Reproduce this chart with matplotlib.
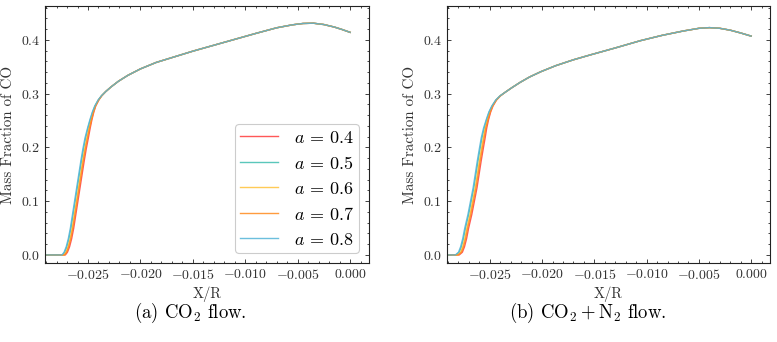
import matplotlib
matplotlib.use("Agg")
import matplotlib.pyplot as plt

plt.rcParams.update({
    "font.family": "cmr10",
    "mathtext.fontset": "cm",
    "axes.formatter.use_mathtext": True,
    "axes.linewidth": 0.8,
    "xtick.direction": "in",
    "ytick.direction": "in",
    "xtick.top": True,
    "ytick.right": True,
    "xtick.minor.visible": True,
    "ytick.minor.visible": True,
    "xtick.major.size": 3,
    "ytick.major.size": 3,
    "xtick.minor.size": 1.5,
    "ytick.minor.size": 1.5,
    "xtick.major.width": 0.6,
    "ytick.major.width": 0.6,
    "xtick.minor.width": 0.5,
    "ytick.minor.width": 0.5,
})

labels = [r"$a \,=\, 0.4$", r"$a \,=\, 0.5$", r"$a \,=\, 0.6$", r"$a \,=\, 0.7$", r"$a \,=\, 0.8$"]
colors = ["#FF3B3B", "#3DBDB0", "#FFC23A", "#FF8A1C", "#52B4D8"]
a_values = [0.4, 0.5, 0.6, 0.7, 0.8]

# ---------- panel (a): CO2 flow ----------
a_flat_x = [-0.0291]
a_flat_y = [0.0]
a_rise_y = [0.0, 0.005, 0.015, 0.03, 0.05, 0.075, 0.10, 0.125, 0.15, 0.175, 0.198, 0.218,
            0.236, 0.252, 0.266, 0.277, 0.288, 0.296]
a_rise_x = {
    0.4: [-0.02716, -0.02696, -0.02676, -0.02656, -0.02636, -0.02616, -0.02596, -0.02576, -0.02556, -0.02536, -0.02516, -0.02496, -0.02479, -0.02462, -0.02444, -0.02426, -0.02397, -0.02369],
    0.5: [-0.02742, -0.02722, -0.02702, -0.02682, -0.02662, -0.02642, -0.02622, -0.02602, -0.02582, -0.02562, -0.02542, -0.02522, -0.02500, -0.02477, -0.02455, -0.02434, -0.02402, -0.02371],
    0.6: [-0.0273, -0.0271, -0.0269, -0.0267, -0.0265, -0.0263, -0.0261, -0.0259, -0.0257, -0.0255, -0.0253, -0.0251, -0.0249, -0.0247, -0.0245, -0.0243, -0.0240, -0.0237],
    0.7: [-0.02724, -0.02704, -0.02684, -0.02664, -0.02644, -0.02624, -0.02604, -0.02584, -0.02564, -0.02544, -0.02524, -0.02504, -0.02485, -0.02466, -0.02447, -0.02428, -0.02399, -0.02369],
    0.8: [-0.02748, -0.02728, -0.02708, -0.02688, -0.02668, -0.02648, -0.02628, -0.02608, -0.02588, -0.02568, -0.02548, -0.02528, -0.02504, -0.02481, -0.02458, -0.02435, -0.02404, -0.02372],
}
a_tail_x = [-0.0233, -0.0228, -0.0221, -0.0212, -0.0200, -0.0185, -0.0170, -0.0150, -0.0130, -0.0110,
            -0.0090, -0.0070, -0.0055, -0.0045, -0.0035, -0.0025, -0.0015, -0.0008, 0.0]
a_tail_y = [0.304, 0.3125, 0.323, 0.334, 0.346, 0.358, 0.367, 0.379, 0.390, 0.401,
            0.412, 0.4225, 0.428, 0.4305, 0.431, 0.4285, 0.4238, 0.4195, 0.414]

# ---------- panel (b): CO2 + N2 flow ----------
b_flat_x = [-0.0291]
b_flat_y = [0.0]
b_rise_y = [0.0, 0.005, 0.015, 0.03, 0.05, 0.075, 0.10, 0.125, 0.15, 0.175, 0.198, 0.218,
            0.236, 0.252, 0.266, 0.277, 0.288, 0.296]
b_rise_x = {
    0.4: [-0.02793, -0.02763, -0.02743, -0.02723, -0.02703, -0.02673, -0.02648, -0.02623, -0.02603, -0.02583, -0.02563, -0.02545, -0.02530, -0.02512, -0.02492, -0.02470, -0.02437, -0.02398],
    0.5: [-0.02823, -0.02793, -0.02773, -0.02753, -0.02733, -0.02703, -0.02678, -0.02653, -0.02633, -0.02613, -0.02593, -0.02575, -0.02554, -0.02530, -0.02506, -0.02479, -0.02443, -0.02401],
    0.6: [-0.0281, -0.0278, -0.0276, -0.0274, -0.0272, -0.0269, -0.02665, -0.0264, -0.0262, -0.0260, -0.0258, -0.02562, -0.02544, -0.02522, -0.02500, -0.02475, -0.02440, -0.02400],
    0.7: [-0.02802, -0.02772, -0.02752, -0.02732, -0.02712, -0.02682, -0.02657, -0.02632, -0.02612, -0.02592, -0.02572, -0.02554, -0.02538, -0.02517, -0.02496, -0.02473, -0.02438, -0.02399],
    0.8: [-0.02830, -0.02800, -0.02780, -0.02760, -0.02740, -0.02710, -0.02685, -0.02660, -0.02640, -0.02620, -0.02600, -0.02582, -0.02560, -0.02534, -0.02509, -0.02481, -0.02444, -0.02402],
}
b_tail_x = [-0.0235, -0.0229, -0.0221, -0.0212, -0.0201, -0.0187, -0.0170, -0.0154, -0.0130, -0.0106,
            -0.0085, -0.0065, -0.0050, -0.0040, -0.0030, -0.0020, -0.0010, 0.0]
b_tail_y = [0.303, 0.311, 0.321, 0.331, 0.341, 0.352, 0.363, 0.372, 0.385, 0.3985,
            0.4085, 0.4165, 0.4215, 0.4228, 0.4215, 0.418, 0.4128, 0.407]

fig = plt.figure(figsize=(7.77, 3.42), dpi=100)
axA = fig.add_axes([45/777, 79/342, 324/777, 257/342])
axB = fig.add_axes([447/777, 79/342, 323/777, 257/342])

for ax, fx, fy, ry, rx, tx, ty in [
    (axA, a_flat_x, a_flat_y, a_rise_y, a_rise_x, a_tail_x, a_tail_y),
    (axB, b_flat_x, b_flat_y, b_rise_y, b_rise_x, b_tail_x, b_tail_y),
]:
    for av, lab, col in zip(a_values, labels, colors):
        xs = fx + rx[av] + tx
        ys = fy + ry + ty
        ax.plot(xs, ys, color=col, lw=1.0, alpha=0.85, label=lab)
    ax.set_xlim(-0.0291, 0.0018)
    ax.set_ylim(-0.015, 0.463)
    ax.set_xticks([-0.025, -0.020, -0.015, -0.010, -0.005, 0.0])
    ax.set_yticks([0.0, 0.1, 0.2, 0.3, 0.4])
    ax.xaxis.set_major_formatter(matplotlib.ticker.FormatStrFormatter("$%.3f$"))
    ax.yaxis.set_major_formatter(matplotlib.ticker.FormatStrFormatter("$%.1f$"))
    ax.tick_params(labelsize=10, colors="#222222", labelcolor="#333333")
    ax.set_xlabel("X/R", fontsize=10.5, color="#333333", labelpad=3)
    ax.set_ylabel("Mass Fraction of CO", fontsize=10.8, color="#333333", labelpad=4)
    for s in ax.spines.values():
        s.set_color("#222222")

leg = axA.legend(loc="lower right", fontsize=13, handlelength=2.1, borderpad=0.3,
                 labelspacing=0.5, handletextpad=0.85, framealpha=1.0,
                 edgecolor="#cccccc", fancybox=True, borderaxespad=0.55)
leg.get_frame().set_linewidth(0.8)

fig.text(190/777, 1 - 313/342, r"(a) CO$_2$ flow.", ha="center", va="center", fontsize=13.5)
fig.text(588/777, 1 - 313/342, r"(b) $\mathrm{CO_2 + N_2}$ flow.", ha="center", va="center", fontsize=13.5)

fig.savefig("out.png", dpi=100)
